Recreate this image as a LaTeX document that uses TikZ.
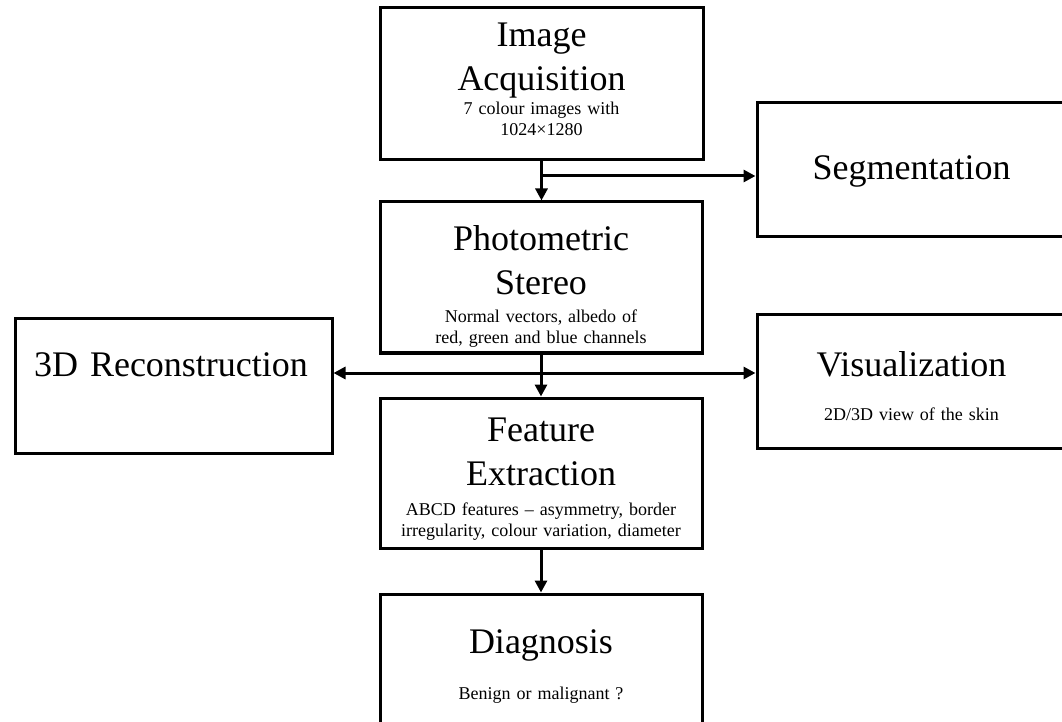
\documentclass[tikz,border=0pt]{standalone}
\usepackage{fontspec}
\setmainfont{Liberation Serif}
\usetikzlibrary{arrows.meta, positioning, calc}

\tikzset{
    stage/.style={draw, line width=1.5pt, inner sep=0pt},
    title/.style={font=\fontsize{18}{22}\selectfont, align=center, text width=155pt, anchor=base, inner sep=0pt},
    note/.style={font=\fontsize{9}{10.5}\selectfont, align=center, text width=155pt, anchor=base, inner sep=0pt},
    flow/.style={-{Triangle[length=6pt, width=6pt]}, line width=1.5pt}
}

\begin{document}
\begin{tikzpicture}[x=0.5pt, y=-0.5pt]
    \useasboundingbox (0,0) rectangle (1062,722);

    % Boxes
    \node[stage, minimum width=161.5pt, minimum height=76pt] (acq) at (541.5,84) {};
    \node[stage, minimum width=154.5pt, minimum height=67pt] (seg) at (911.5,170) {};
    \node[stage, minimum width=161pt, minimum height=75.5pt] (photo) at (541,277.5) {};
    \node[stage, minimum width=158.5pt, minimum height=67pt] (recon) at (173.5,386) {};
    \node[stage, minimum width=154.5pt, minimum height=66.5pt] (vis) at (911.5,381.5) {};
    \node[stage, minimum width=161pt, minimum height=75pt] (feat) at (541,473) {};
    \node[stage, minimum width=161pt, minimum height=75.5pt] (diag) at (541,669.5) {};

    % Texts
    \node[title] (acq-t) at (541.5,47) {Image\\Acquisition};
    \node[note] (acq-n) at (541.5,115) {7 colour images with\\1024×1280};
    \node[title] (seg-t) at (911.5,180) {Segmentation};
    \node[title] (photo-t) at (541,250) {Photometric\\Stereo};
    \node[note] (photo-n) at (541,322) {Normal vectors, albedo of\\red, green and blue channels};
    \node[title] (recon-t) at (171,377) {3D Reconstruction};
    \node[title] (vis-t) at (911.5,377) {Visualization};
    \node[note] (vis-n) at (911.5,420) {2D/3D view of the skin};
    \node[title] (feat-t) at (541,441) {Feature\\Extraction};
    \node[note, text width=170pt] (feat-n) at (541,515) {ABCD features – asymmetry, border\\irregularity, colour variation, diameter};
    \node[title] (diag-t) at (541,653) {Diagnosis};
    \node[note] (diag-n) at (541,699) {Benign or malignant ?};

    % Connectors
    \coordinate (split1) at (541.5,176);
    \coordinate (split2) at (541,373);
    \draw[flow] (acq.south) -- (acq.south |- photo.north);
    \draw[flow] (split1) -- (split1 -| seg.west);
    \draw[flow] (photo.south) -- (photo.south |- feat.north);
    \draw[flow, {Triangle[length=6pt, width=6pt]}-{Triangle[length=6pt, width=6pt]}] (split2 -| recon.east) -- (split2 -| vis.west);
    \draw[flow] (feat.south) -- (diag.north);
\end{tikzpicture}
\end{document}
